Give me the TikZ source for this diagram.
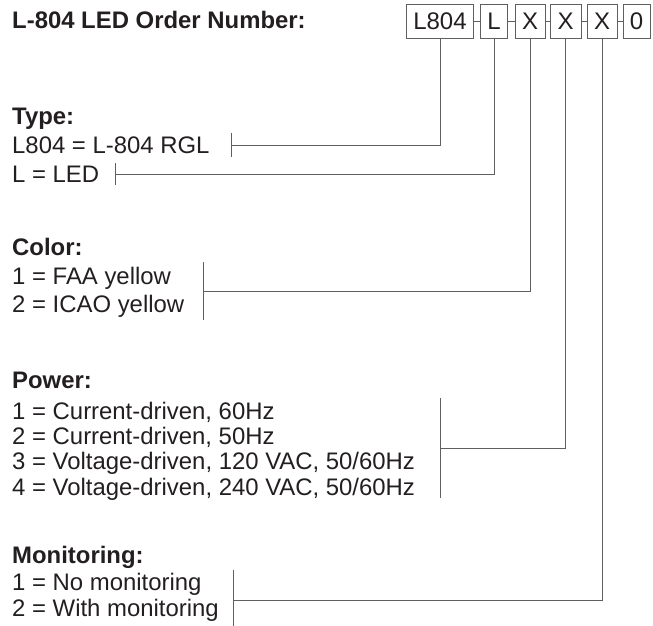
\documentclass[tikz,border=0pt]{standalone}
\usepackage{fontspec}
\setmainfont{Liberation Sans}
\usetikzlibrary{positioning}
\definecolor{inkdark}{RGB}{35,31,32}
\definecolor{leadgray}{RGB}{95,95,95}
\tikzset{
  codebox/.style={rectangle, draw=leadgray, line width=1pt, minimum height=34pt,
                  inner sep=0pt, font=\fontsize{24}{24}\selectfont, text=inkdark},
  codelink/.style={leadgray, line width=1pt},
  lead/.style={leadgray, line width=1pt},
  grouphead/.style={anchor=base west, inner sep=0pt,
                    font=\fontsize{23.9}{25}\selectfont\bfseries, text=inkdark},
  optlabel/.style={anchor=base west, inner sep=0pt,
                   font=\fontsize{23.9}{25}\selectfont, text=inkdark},
}
\begin{document}
\begin{tikzpicture}[x=1pt,y=-1pt]
  \useasboundingbox (0,0) rectangle (653,625);
  \node[grouphead] (title) at (12,28) {L-804 LED Order Number:};

  % order number fields
  \node[codebox, minimum width=67pt] (fType)  at (440,21.5) {L804};
  \node[codebox, minimum width=27pt] (fLed)   at (494,21.5) {L};
  \node[codebox, minimum width=30pt] (fColor) at (530,21.5) {X};
  \node[codebox, minimum width=31pt] (fPower) at (565.5,21.5) {X};
  \node[codebox, minimum width=30pt] (fMon)   at (602,21.5) {X};
  \node[codebox, minimum width=27pt] (fEnd)   at (636.5,21.5) {0};
  \draw[codelink] (fType) -- (fLed);
  \draw[codelink] (fLed) -- (fColor);
  \draw[codelink] (fColor) -- (fPower);
  \draw[codelink] (fPower) -- (fMon);
  \draw[codelink] (fMon) -- (fEnd);

  % type
  \node[grouphead] (hType) at (12,124) {Type:};
  \node[optlabel] (oType1) at (12,153) {L804 = L-804 RGL};
  \node[optlabel] (oType2) at (12,182) {L = LED};
  \coordinate (kType1) at (231,145);
  \coordinate (kType2) at (115,174);
  \draw[lead] (fType.south) |- (kType1);
  \draw[lead] (kType1) ++(0,-12) -- ++(0,24);
  \draw[lead] (fLed.south) |- (kType2);
  \draw[lead] (kType2) ++(0,-11) -- ++(0,22);

  % color
  \node[grouphead] (hColor) at (12,255) {Color:};
  \node[optlabel] (oColor1) at (12,284) {1 = FAA yellow};
  \node[optlabel] (oColor2) at (12,312) {2 = ICAO yellow};
  \coordinate (kColor) at (203,291);
  \draw[lead] (fColor.south) |- (kColor);
  \draw[lead] (kColor) ++(0,-29) -- ++(0,58);

  % power
  \node[grouphead] (hPower) at (12,388) {Power:};
  \node[optlabel] (oPower1) at (12,419) {1 = Current-driven, 60Hz};
  \node[optlabel] (oPower2) at (12,444) {2 = Current-driven, 50Hz};
  \node[optlabel] (oPower3) at (12,469) {3 = Voltage-driven, 120 VAC, 50/60Hz};
  \node[optlabel] (oPower4) at (12,495) {4 = Voltage-driven, 240 VAC, 50/60Hz};
  \coordinate (kPower) at (440,448);
  \draw[lead] (fPower.south) |- (kPower);
  \draw[lead] (kPower) ++(0,-50) -- ++(0,100);

  % monitoring
  \node[grouphead] (hMon) at (12,563) {Monitoring:};
  \node[optlabel] (oMon1) at (12,590) {1 = No monitoring};
  \node[optlabel] (oMon2) at (12,616) {2 = With monitoring};
  \coordinate (kMon) at (233,600);
  \draw[lead] (fMon.south) |- (kMon);
  \draw[lead] (kMon) ++(0,-30) -- ++(0,60);
\end{tikzpicture}
\end{document}
